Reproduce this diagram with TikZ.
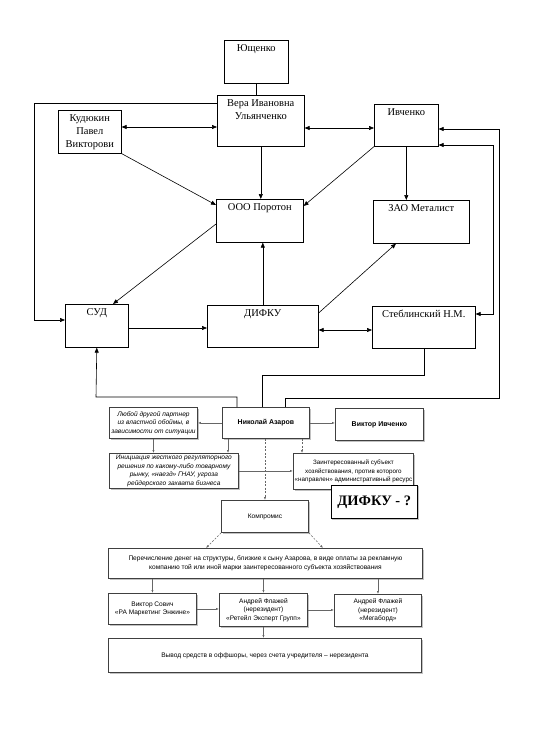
\documentclass[tikz,border=0pt]{standalone}
\usepackage{fontspec}
\setmainfont{Liberation Serif}
\setsansfont{Liberation Sans}
\usetikzlibrary{arrows.meta,positioning,shadows}
\newcommand{\topFont}{\fontsize{10.5}{13}\selectfont}
\newcommand{\lowFont}{\fontsize{6.6}{8.7}\selectfont\sffamily}
\newcommand{\textGap}{4bp}
\tikzset{
	upbox/.style 2 args={draw, line width=0.6pt, inner sep=0pt, anchor=north west, minimum width=#1bp, minimum height=#2bp, align=center, font=\topFont},
	uptext/.style={inner sep=0pt, align=center, font=\topFont, anchor=north},
	upline/.style={line width=0.6pt},
	uparrow/.style={upline, -{Triangle[length=5bp,width=4bp]}},
	upboth/.style={upline, {Triangle[length=5bp,width=4bp]}-{Triangle[length=5bp,width=4bp]}},
	lowbox/.style 2 args={draw=black!75, line width=0.9pt, fill=white, drop shadow={shadow xshift=1.2pt, shadow yshift=-1.2pt, fill=black!40, opacity=0.6}, inner sep=0pt, anchor=north west, minimum width=#1bp, minimum height=#2bp, align=center, font=\lowFont},
	lowarrow/.style={draw=black!60, line width=0.5pt, -{Latex[length=3bp,width=2.2bp]}},
	lowdash/.style={lowarrow, dash pattern=on 2pt off 1.5pt}
}
\begin{document}
\begin{tikzpicture}[x=1bp, y=-1bp]
	\useasboundingbox (0,0) rectangle (533,734);

	% upper part
	\node[upbox={64}{43}] (yush) at (224,40) {};
	\node[upbox={87}{51}] (vera) at (217,95) {};
	\node[upbox={63}{43}] (kud) at (58,110) {Кудюкин\\Павел\\Викторови};
	\node[upbox={64}{42}] (ivch) at (374,104) {};
	\node[upbox={87}{43}] (poroton) at (216,199) {};
	\node[upbox={96}{43}] (metal) at (373,200) {};
	\node[upbox={63}{43}] (sud) at (65,304) {};
	\node[upbox={111}{42}] (difku) at (207,305) {};
	\node[upbox={103}{42}] (stebl) at (372,306) {};

	\node[uptext, below=\textGap of yush.north] (yush-t) {Ющенко};
	\node[uptext, below=\textGap of vera.north] (vera-t) {Вера Ивановна\\Ульянченко};
	\node[uptext, below=\textGap of ivch.north] (ivch-t) {Ивченко};
	\node[uptext, below=\textGap of poroton.north] (poroton-t) {ООО Поротон};
	\node[uptext, below=\textGap of metal.north] (metal-t) {ЗАО Металист};
	\node[uptext, below=\textGap of sud.north] (sud-t) {СУД};
	\node[uptext, below=\textGap of difku.north] (difku-t) {ДИФКУ};
	\node[uptext, below=\textGap of stebl.north] (stebl-t) {Стеблинский Н.М.};

	\draw[upline] (yush.south) -- (yush.south |- vera.north);
	\draw[uparrow] (vera.west |- 0,103) -| (34,320) -- (sud.west |- 0,320);
	\draw[upboth] (kud.east |- 0,127) -- (vera.west |- 0,127);
	\draw[upboth] (vera.east |- 0,128) -- (ivch.west |- 0,128);
	\draw[uparrow] (vera.south) -- (vera.south |- poroton.north);
	\draw[uparrow] (kud.south east) -- (poroton.west |- 0,205);
	\draw[uparrow] (ivch.south west) -- (poroton.east |- 0,206);
	\draw[uparrow] (ivch.south) -- (ivch.south |- metal.north);
	\draw[uparrow] (poroton.west |- 0,224) -- (sud.north -| 113,0);
	\draw[uparrow] (difku.north) -- (difku.north |- poroton.south);
	\draw[uparrow] (difku.east |- 0,313) -- (metal.south -| 396,0);
	\draw[uparrow] (sud.east |- 0,328) -- (difku.west |- 0,328);
	\draw[upboth] (difku.east |- 0,330) -- (stebl.west |- 0,330);
	\draw[upboth] (stebl.east |- 0,314) -| (493,145) -- (ivch.east |- 0,145);

	% lower part
	\node[lowbox={87}{31}] (nik) at (222,407) {\fontsize{7}{9}\selectfont\bfseries Николай Азаров};
	\node[lowbox={88}{31}] (lyub) at (109,407) {\itshape Любой другой партнер\\\itshape из властной обоймы, в\\\itshape зависимости от ситуации};
	\node[lowbox={88}{32}] (vivch) at (335,408) {\fontsize{7}{9}\selectfont\bfseries Виктор Ивченко};
	\node[lowbox={129}{35}] (init) at (109,453) {\itshape Инициация жесткого регуляторного\\\itshape решения по какому-либо товарному\\\itshape рынку, «наезд» ГНАУ, угроза\\\itshape рейдерского захвата бизнеса};
	\node[lowbox={120}{36}, font=\fontsize{6.3}{8.2}\selectfont\sffamily] (zaint) at (293,453) {Заинтересованный субъект\\хозяйствования, против которого\\«направлен» административный ресурс};
	\node[lowbox={86}{33}, draw=black, line width=0.6pt, font=\fontsize{14.5}{17}\selectfont\rmfamily\bfseries] (dq) at (331,485) {ДИФКУ - ?};
	\node[lowbox={87}{32}] (komp) at (221,500) {Компромис};
	\node[lowbox={314}{30}] (perech) at (108,548) {Перечисление денег на структуры, близкие к сыну Азарова, в виде оплаты за рекламную\\компанию той или иной марки заинтересованного субъекта хозяйствования};
	\node[lowbox={88}{31}] (sovich) at (108,593) {Виктор Сович\\«РА Маркетинг Энжине»};
	\node[lowbox={88}{33}] (andr1) at (219,593) {Андрей Флажей\\(нерезидент)\\«Ретейл Эксперт Групп»};
	\node[lowbox={87}{32}] (andr2) at (334,594) {Андрей Флажей\\(нерезидент)\\«Мегаборд»};
	\node[lowbox={313}{34}] (vyvod) at (108,638) {Вывод средств в оффшоры, через счета учредителя – нерезидента};

	% routes from Азаров up to the upper part
	\draw[uparrow] (nik.north -| 237,0) |- (96,397) -- (sud.south);
	\draw[upline] (stebl.south) |- (262,375) -- (nik.north -| 262,0);
	\draw[uparrow] (nik.north -| 285,0) |- (499,398) |- (ivch.east |- 0,129);

	\draw[lowarrow] (nik.west) -- (nik.west -| lyub.east);
	\draw[lowarrow] (nik.east) -- (nik.east -| vivch.west);
	\draw[lowarrow] (lyub.south) -- (lyub.south |- init.north);
	\draw[lowarrow] (nik.south -| 228,0) -- (init.north -| 228,0);
	\draw[lowdash] (nik.south -| komp.north) -- (komp.north);
	\draw[lowdash] (nik.south -| 302,0) -- (zaint.north -| 302,0);
	\draw[lowarrow] (init.east) -- (init.east -| zaint.west);
	\draw[lowdash] (komp.south west) -- (perech.north -| 206,0);
	\draw[lowdash] (komp.south east) -- (perech.north -| 323,0);
	\foreach \target in {sovich, andr1, andr2}
	{
		\draw[lowarrow] (perech.south -| \target.north) -- (\target.north);
	}
	\draw[lowarrow] (sovich.east) -- (sovich.east -| andr1.west);
	\draw[lowarrow] (andr1.east) -- (andr1.east -| andr2.west);
	\draw[lowarrow] (andr1.south) -- (andr1.south |- vyvod.north);
\end{tikzpicture}
\end{document}
